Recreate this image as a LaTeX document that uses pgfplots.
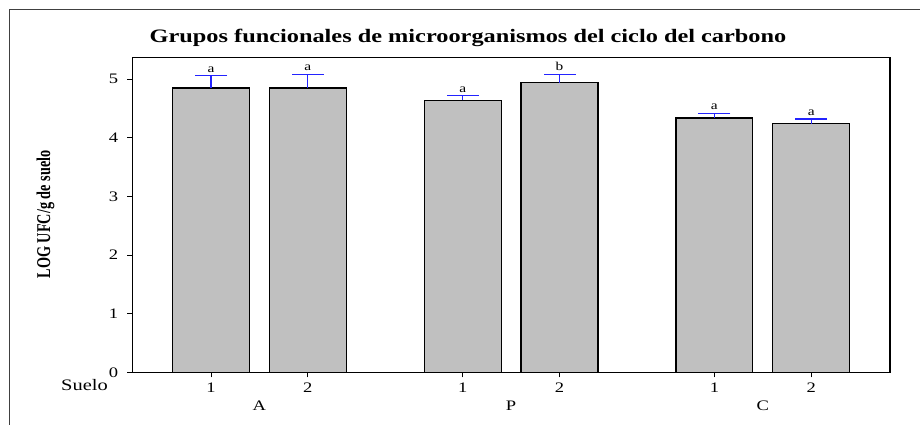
\documentclass[border=0pt]{standalone}
\usepackage{fontspec}
\setmainfont[FakeStretch=1.28]{Liberation Serif}
\newfontfamily\plainserif{Liberation Serif}
\usepackage{graphicx}
\usepackage{pgfplots}
\pgfplotsset{compat=1.18}
\usepackage{pgfplotstable}
\definecolor{bargray}{RGB}{192,192,192}
\definecolor{errblue}{RGB}{35,35,255}

\pgfplotstableread{
pos val err top lab
1   4.85 0.21 5.06 a
2   4.85 0.23 5.08 a
3.6 4.64 0.08 4.72 a
4.6 4.94 0.14 5.08 b
6.2 4.34 0.08 4.42 a
7.2 4.24 0.08 4.32 a
}\datatable

\begin{document}
\begin{tikzpicture}[x=1pt,y=1pt]
\useasboundingbox (0,0) rectangle (920,425);
\draw[line width=0.9pt, black!75] (9,0) -- (9,415.7) -- (920,415.7);
\begin{axis}[
  at={(132.3pt,52.7pt)}, anchor=south west,
  width=757.7pt, height=315pt, scale only axis,
  xmin=0.187, xmax=8.014, ymin=0, ymax=5.375,
  axis line style={line width=1.2pt},
  xtick={1,2,3.6,4.6,6.2,7.2}, xticklabels={1,2,1,2,1,2},
  ytick={0,1,2,3,4,5},
  tick align=outside, tick pos=left, major tick length=5pt,
  tick style={line width=1pt, black},
  /pgf/number format/assume math mode=true,
  tick label style={font=\fontsize{14.5}{16}\selectfont},
  yticklabel style={anchor=east, inner sep=0pt, xshift=-9pt},
  xticklabel style={anchor=north, inner sep=0pt, yshift=-5.2pt},
  clip=false,
]
\addplot[ybar, bar width=0.795, fill=bargray, draw=black, line width=1.2pt]
  table[x=pos, y=val]{\datatable};
\addplot[draw=none, mark=none,
  error bars/.cd, y dir=plus, y explicit, error mark=none,
  error bar style={draw=errblue, line width=1.3pt}]
  table[x=pos, y=val, y error=err]{\datatable};
\addplot[only marks, mark=-, mark size=16pt, mark options={draw=errblue, line width=1.3pt}]
  table[x=pos, y=top]{\datatable};
\addplot[draw=none, mark=none, nodes near coords, point meta=explicit symbolic,
  every node near coord/.append style={black, inner sep=0pt, yshift=3.3pt, font=\fontsize{12}{14}\selectfont}]
  table[x=pos, y=top, meta=lab]{\datatable};
\node[anchor=base, font=\fontsize{14.5}{16}\selectfont, yshift=-38.7pt] at (axis cs:1.5,0) {A};
\node[anchor=base, font=\fontsize{14.5}{16}\selectfont, yshift=-38.7pt] at (axis cs:4.1,0) {P};
\node[anchor=base, font=\fontsize{14.5}{16}\selectfont, yshift=-38.7pt] at (axis cs:6.7,0) {C};
\end{axis}
\node[anchor=base, font=\fontsize{16}{18}\selectfont] at (84.5,34) {Suelo};
\node[rotate=90, font=\plainserif\bfseries\fontsize{15}{17}\selectfont] at (45.5,210.5) {\scalebox{0.95}[1.3]{LOG UFC/g de suelo}};
\node[anchor=base, font=\bfseries\fontsize{19}{22}\selectfont] at (468,382.3) {Grupos funcionales de microorganismos del ciclo del carbono};
\end{tikzpicture}
\end{document}
